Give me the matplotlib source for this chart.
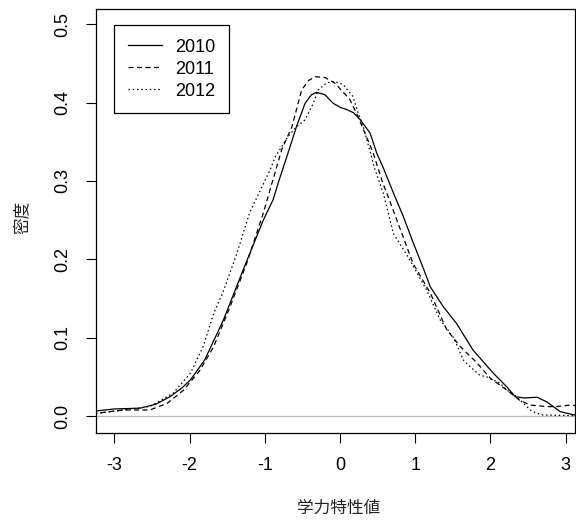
import matplotlib
matplotlib.use("Agg")
import matplotlib.pyplot as plt

plt.rcParams['font.family'] = ['Liberation Sans', 'Noto Sans CJK JP', 'DejaVu Sans']

# ---- data ----
x2010 = [-3.30, -3.24, -3.00, -2.66, -2.45, -2.26, -2.10, -1.99, -1.80, -1.55, -1.29, -1.02, -0.89, -0.82,
         -0.69, -0.58, -0.465, -0.38, -0.31, -0.20, -0.09, 0.00, 0.09, 0.18, 0.27, 0.40, 0.49, 0.57, 0.70,
         0.84, 0.97, 1.11, 1.20, 1.37, 1.55, 1.77, 2.04, 2.22, 2.33, 2.45, 2.62, 2.75, 2.93, 3.12, 3.20]
y2010 = [0.005, 0.0065, 0.009, 0.0100, 0.015, 0.0247, 0.036, 0.046, 0.0715, 0.1226, 0.186, 0.250, 0.276, 0.298,
         0.336, 0.369, 0.399, 0.410, 0.413, 0.410, 0.399, 0.394, 0.391, 0.387, 0.378, 0.361, 0.335, 0.318, 0.287,
         0.255, 0.222, 0.188, 0.165, 0.140, 0.118, 0.084, 0.0545, 0.037, 0.0247, 0.023, 0.024, 0.018, 0.0055, 0.0013, 0.0008]

x2011 = [-3.30, -3.24, -2.88, -2.53, -2.30, -2.08, -1.86, -1.68, -1.46, -1.24, -1.02, -0.975, -0.775, -0.64,
         -0.51, -0.42, -0.33, -0.20, -0.07, 0.13, 0.24, 0.44, 0.57, 0.62, 0.97, 1.20, 1.42, 1.60, 1.82, 2.00,
         2.22, 2.39, 2.53, 2.75, 2.88, 3.06, 3.20]
y2011 = [0.002, 0.0034, 0.0077, 0.0077, 0.016, 0.033, 0.0587, 0.0885, 0.140, 0.195, 0.259, 0.274, 0.340, 0.369,
         0.416, 0.428, 0.433, 0.432, 0.425, 0.404, 0.382, 0.336, 0.297, 0.285, 0.195, 0.157, 0.110, 0.0885, 0.068, 0.048,
         0.033, 0.020, 0.014, 0.012, 0.012, 0.014, 0.013]

x2012 = [-3.30, -3.24, -2.88, -2.53, -2.22, -1.99, -1.82, -1.68, -1.56, -1.37, -1.20, -0.93, -0.86, -0.69,
         -0.58, -0.465, -0.355, -0.29, -0.18, -0.07, 0.04, 0.17, 0.24, 0.31, 0.46, 0.576, 0.71, 0.93, 1.15,
         1.33, 1.51, 1.64, 1.73, 1.86, 1.95, 2.13, 2.22, 2.35, 2.53, 2.62, 2.70, 2.84, 3.20]
y2012 = [0.002, 0.0034, 0.0077, 0.012, 0.029, 0.0545, 0.0885, 0.131, 0.157, 0.208, 0.260, 0.314, 0.331, 0.357,
         0.369, 0.378, 0.399, 0.416, 0.425, 0.427, 0.423, 0.408, 0.387, 0.369, 0.316, 0.284, 0.233, 0.199, 0.161,
         0.123, 0.100, 0.0715, 0.063, 0.052, 0.050, 0.0418, 0.033, 0.0247, 0.0077, 0.0034, 0.0013, 0.001, 0.0003]

series_labels = ["2010", "2011", "2012"]
x_ticks = [-3, -2, -1, 0, 1, 2, 3]
y_ticks = [0.0, 0.1, 0.2, 0.3, 0.4, 0.5]
x_label = "学力特性値"
y_label = "密度"

# ---- figure ----
fig = plt.figure(figsize=(5.76, 5.2), dpi=100)
ax = fig.add_axes([96/576, 1 - 432.7/520, (575 - 96)/576, (432.7 - 9.3)/520])

lw = 0.9
styles = [dict(linestyle='-'),
          dict(linestyle=(0, (4, 2.8))),
          dict(linestyle=(0, (1.2, 2.2)))]
ax.axhline(0, color='#bebebe', lw=0.9, zorder=1)
for xs, ys, st, lab in zip([x2010, x2011, x2012], [y2010, y2011, y2012], styles, series_labels):
    ax.plot(xs, ys, color='black', lw=lw, label=lab, zorder=2, **st)

ax.set_xlim(-3.245, 3.125)
ax.set_ylim(-0.0213, 0.519)
ax.set_xticks(x_ticks)
ax.set_xticklabels([str(v) for v in x_ticks])
ax.set_yticks(y_ticks)
ax.set_yticklabels([f"{v:.1f}" for v in y_ticks], rotation=90, va='center')
ax.tick_params(axis='both', direction='out', length=7.5, width=0.8, labelsize=13, color='black')
ax.tick_params(axis='x', pad=10)
ax.tick_params(axis='y', pad=10)
for s in ax.spines.values():
    s.set_linewidth(0.9)
    s.set_color('black')

fig.text(339/576, 1 - 508/520, x_label, ha='center', va='center', fontsize=12,
         family=['Noto Sans CJK JP', 'DejaVu Sans'], color='#222222')
fig.text(22/576, 1 - 217/520, y_label, ha='center', va='center', rotation=90, fontsize=12,
         family=['Noto Sans CJK JP', 'DejaVu Sans'], color='#222222')

leg = ax.legend(loc='upper left', bbox_to_anchor=((114 - 96)/479, (432.7 - 25)/423.4),
                borderaxespad=0, fancybox=False, framealpha=1, edgecolor='black',
                fontsize=13, handlelength=1.9, handletextpad=0.75, borderpad=0.75,
                labelspacing=0.28)
leg.get_frame().set_linewidth(0.9)

fig.savefig("out.png", dpi=100)
